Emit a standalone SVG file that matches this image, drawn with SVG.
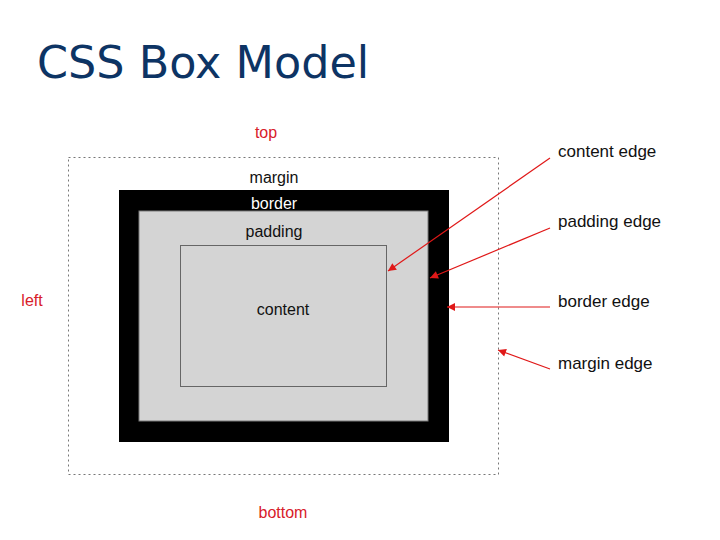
<svg xmlns="http://www.w3.org/2000/svg" width="720" height="540" viewBox="0 0 720 540">
<style>
.lbl{font-family:"Liberation Sans",Arial,sans-serif;font-size:16px;fill:#111}
.side{font-family:"Liberation Sans",Arial,sans-serif;font-size:16px;fill:#d8202a}
.edge{font-family:"Liberation Sans",Arial,sans-serif;font-size:17px;fill:#111}
.arr{stroke:#e01818;stroke-width:1.2;fill:none;marker-end:url(#ah)}
</style>
<defs>
<marker id="ah" viewBox="0 0 10 10" refX="10" refY="5" markerWidth="11" markerHeight="8" markerUnits="userSpaceOnUse" orient="auto">
<path d="M0,0 L10,5 L0,10 z" fill="#e01818"/>
</marker>
</defs>
<rect width="720" height="540" fill="#fff"/>
<text x="37" y="78" font-family="'DejaVu Sans',Verdana,sans-serif" font-size="44.5" fill="#0d3464">CSS Box Model</text>
<g id="margin-box">
<rect x="68.5" y="157.5" width="430" height="317" fill="none" stroke="#777" stroke-width="1" stroke-dasharray="2,3"/>
<text class="lbl" x="274" y="183" text-anchor="middle">margin</text>
</g>
<g id="border-box">
<rect x="119" y="190" width="330" height="252" fill="#000"/>
<text class="lbl" x="274" y="209" text-anchor="middle" style="fill:#fff">border</text>
</g>
<g id="padding-box">
<rect x="139" y="211" width="289" height="210" fill="#d4d4d4" stroke="#7a7a7a" stroke-width="1"/>
<text class="lbl" x="274" y="237" text-anchor="middle">padding</text>
</g>
<g id="content-box">
<rect x="180.5" y="245.5" width="206" height="141" fill="#d4d4d4" stroke="#666" stroke-width="1"/>
<text class="lbl" x="283" y="315" text-anchor="middle">content</text>
</g>
<g id="side-labels">
<text class="side" x="266" y="138" text-anchor="middle">top</text>
<text class="side" x="32" y="306" text-anchor="middle">left</text>
<text class="side" x="283" y="518" text-anchor="middle">bottom</text>
</g>
<g id="edge-labels">
<text class="edge" x="558" y="157">content edge</text>
<text class="edge" x="558" y="227">padding edge</text>
<text class="edge" x="558" y="307">border edge</text>
<text class="edge" x="558" y="369">margin edge</text>
</g>
<g id="connectors">
<line class="arr" x1="550" y1="158" x2="388" y2="271"/>
<line class="arr" x1="550" y1="228" x2="430" y2="278"/>
<line class="arr" x1="550" y1="307" x2="447" y2="307"/>
<line class="arr" x1="550" y1="369" x2="498" y2="350"/>
</g>
</svg>
